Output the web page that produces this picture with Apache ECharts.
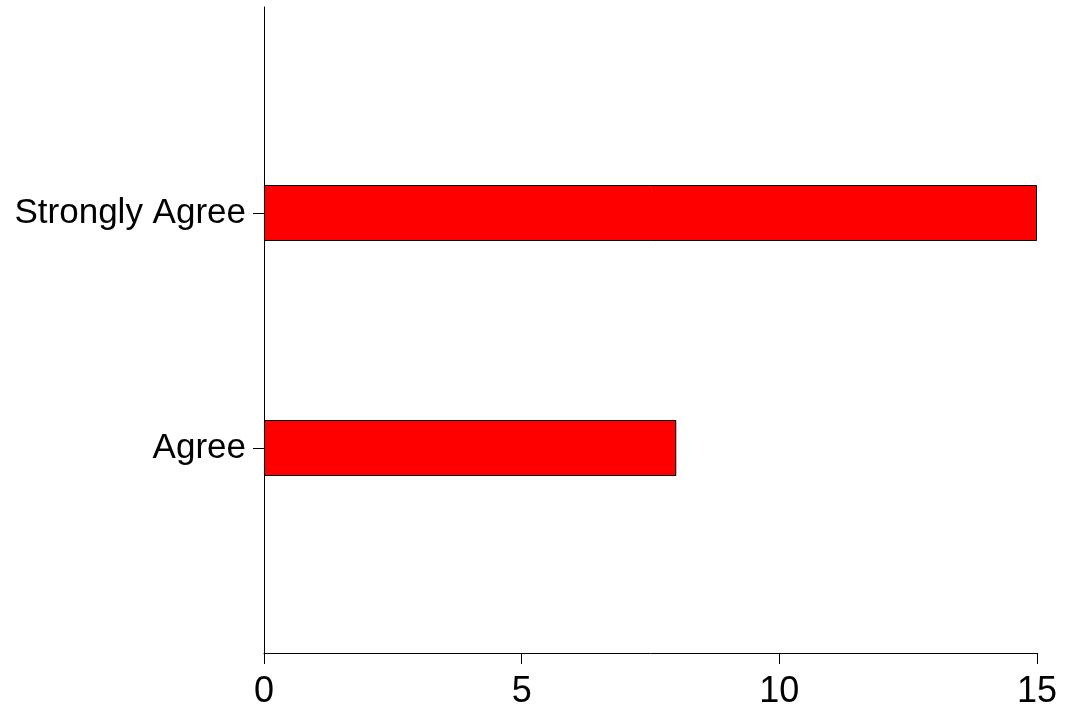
<!DOCTYPE html>
<html>
<head>
<meta charset="utf-8">
<script src="https://cdn.jsdelivr.net/npm/echarts@6/dist/echarts.min.js"></script>
<style>html,body{margin:0;padding:0;background:#fff;}#c{width:1067px;height:715px;}</style>
</head>
<body>
<div id="c"></div>
<script>
const categories = ['Agree', 'Strongly Agree'];
const values = [8, 15];
const xTicks = [0, 5, 10, 15];

const font = 'Liberation Sans, Arial, sans-serif';
const chart = echarts.init(document.getElementById('c'), null, {renderer: 'canvas'});
chart.setOption({
  animation: false,
  backgroundColor: '#fff',
  grid: [
    {left: 264, right: 30, top: 95.5, bottom: 149.5, containLabel: false},
    {left: 264, right: 30, top: 7, bottom: 62, containLabel: false}
  ],
  xAxis: [
    {gridIndex: 0, type: 'value', min: xTicks[0], max: xTicks[xTicks.length - 1], interval: 5, show: false},
    {gridIndex: 1, type: 'value', min: xTicks[0], max: xTicks[xTicks.length - 1], interval: 5,
      axisLine: {show: true, lineStyle: {color: '#000', width: 1}},
      axisTick: {show: true, length: 11, lineStyle: {color: '#000'}},
      splitLine: {show: false},
      axisLabel: {color: '#000', fontSize: 36, fontFamily: font, margin: 21}
    }
  ],
  yAxis: [
    {gridIndex: 0, type: 'category', data: categories,
      axisLine: {show: false},
      axisTick: {show: true, alignWithLabel: true, length: 11, lineStyle: {color: '#000'}},
      axisLabel: {color: '#000', fontSize: 35, fontFamily: font, margin: 18},
      splitLine: {show: false}
    },
    {gridIndex: 1, type: 'category', data: categories,
      axisLine: {show: true, lineStyle: {color: '#000', width: 1}},
      axisTick: {show: false},
      axisLabel: {show: false},
      splitLine: {show: false}
    }
  ],
  series: [{
    type: 'bar',
    xAxisIndex: 0,
    yAxisIndex: 0,
    data: values,
    barWidth: 56,
    itemStyle: {color: '#ff0000', borderColor: '#000', borderWidth: 1}
  }]
});
</script>
</body>
</html>
